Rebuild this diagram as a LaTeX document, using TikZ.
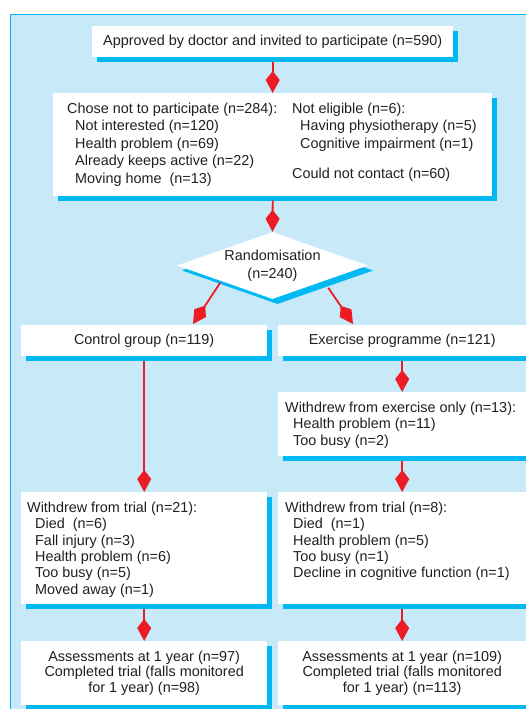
\documentclass[tikz,border=0pt]{standalone}
\usepackage{fontspec}
\setmainfont{Liberation Sans}
\usetikzlibrary{shapes.geometric,shadows,arrows.meta}
\definecolor{bgblue}{RGB}{199,233,248}
\definecolor{edgeblue}{RGB}{0,185,242}
\definecolor{arrred}{RGB}{237,28,36}
\definecolor{txtgray}{RGB}{35,31,32}

\begin{document}
\begin{tikzpicture}  % ------ Flux des participants de l'essai --------
      [x=1pt,y=-1pt, font=\fontsize{14.4}{17.5}\selectfont, text=txtgray,
       shad/.style={drop shadow={shadow xshift=5pt,shadow yshift=-5pt,fill=edgeblue,opacity=1}},
       box/.style={shad, fill=white, inner sep=0pt, anchor=north west},
       txt/.style={inner sep=0pt, anchor=north west, align=left},
       arr/.style={draw=arrred, line width=1.8pt, -{Kite[length=22pt,width=14pt,inset=9pt]}}]

    \useasboundingbox (0,0) rectangle (525,709);
    \fill[bgblue] (10,14) rectangle (530,714);
    \draw[edgeblue, line width=1.4pt] (10.7,714) -- (10.7,14.7) -- (530,14.7);

    \coordinate (ctrl in) at (193,324);
    \coordinate (exer in) at (353,324);

    \node[box, minimum width=361pt, minimum height=31pt] (appr) at (92,26)
        {Approved by doctor and invited to participate (n=590)};

    \node[box, minimum width=439pt, minimum height=103pt] (excl) at (53,93) {};
    \node[txt] (excl left) at (67,102.6) {Chose not to participate (n=284):\\
        \hspace*{8pt}Not interested (n=120)\\ \hspace*{8pt}Health problem (n=69)\\
        \hspace*{8pt}Already keeps active (n=22)\\ \hspace*{8pt}Moving home\ \ (n=13)};
    \node[txt] (excl right) at (292,102.6) {Not eligible (n=6):\\
        \hspace*{8pt}Having physiotherapy (n=5)\\ \hspace*{8pt}Cognitive impairment (n=1)\\[12.5pt]
        Could not contact (n=60)};

    \node[shad, shape=diamond, fill=white, inner sep=0pt, aspect=2.85, minimum width=191pt,
          minimum height=67pt, align=center, font=\fontsize{14.4}{18}\selectfont] (rand)
          at (272.5,265.5) {Randomisation\\(n=240)};

    \node[box, minimum width=246pt, minimum height=31pt] (ctrl) at (21,325) {Control group (n=119)};
    \node[box, minimum width=248pt, minimum height=31pt] (exer) at (278,325) {Exercise programme (n=121)};

    \node[box, minimum width=248pt, minimum height=64pt] (wdex) at (278,392) {};
    \node[txt, font=\fontsize{14.4}{16.5}\selectfont] (wdex text) at (285,401.6)
        {Withdrew from exercise only (n=13):\\ \hspace*{8pt}Health problem (n=11)\\
        \hspace*{8pt}Too busy (n=2)};

    \node[box, minimum width=246pt, minimum height=112pt] (wd1) at (21,492) {};
    \node[txt, font=\fontsize{14.4}{16.4}\selectfont] (wd1 text) at (27,501.6)
        {Withdrew from trial (n=21):\\ \hspace*{8pt}Died\ \ (n=6)\\ \hspace*{8pt}Fall injury (n=3)\\
        \hspace*{8pt}Health problem (n=6)\\ \hspace*{8pt}Too busy (n=5)\\ \hspace*{8pt}Moved away (n=1)};

    \node[box, minimum width=248pt, minimum height=112pt] (wd2) at (278,492) {};
    \node[txt, font=\fontsize{14.4}{16.4}\selectfont] (wd2 text) at (285,501.6)
        {Withdrew from trial (n=8):\\ \hspace*{8pt}Died\ \ (n=1)\\ \hspace*{8pt}Health problem (n=5)\\
        \hspace*{8pt}Too busy (n=1)\\ \hspace*{8pt}Decline in cognitive function (n=1)};

    \node[box, minimum width=246pt, minimum height=64pt, align=center,
          font=\fontsize{14.4}{15.6}\selectfont] (as1) at (21,641)
        {Assessments at 1 year (n=97)\\ Completed trial (falls monitored\\ for 1 year) (n=98)};
    \node[box, minimum width=248pt, minimum height=64pt, align=center,
          font=\fontsize{14.4}{15.6}\selectfont] (as2) at (278,641)
        {Assessments at 1 year (n=109)\\ Completed trial (falls monitored\\ for 1 year) (n=113)};

    \draw[arr, shorten <=5pt] (appr.south) -- (excl.north);
    \draw[arr, shorten <=4pt] (excl.south) -- (rand.north);
    \draw[arr, shorten <=2pt] (rand.197.6) -- (ctrl in);
    \draw[arr, shorten <=8pt] (rand.343) -- (exer in);
    \draw[arr, shorten <=5pt] (ctrl.south) -- (wd1.north);
    \draw[arr, shorten <=5pt] (exer.south) -- (wdex.north);
    \draw[arr, shorten <=5pt] (wdex.south) -- (wd2.north);
    \draw[arr, shorten <=5pt] (wd1.south) -- (as1.north);
    \draw[arr, shorten <=5pt] (wd2.south) -- (as2.north);
\end{tikzpicture}
\end{document}
